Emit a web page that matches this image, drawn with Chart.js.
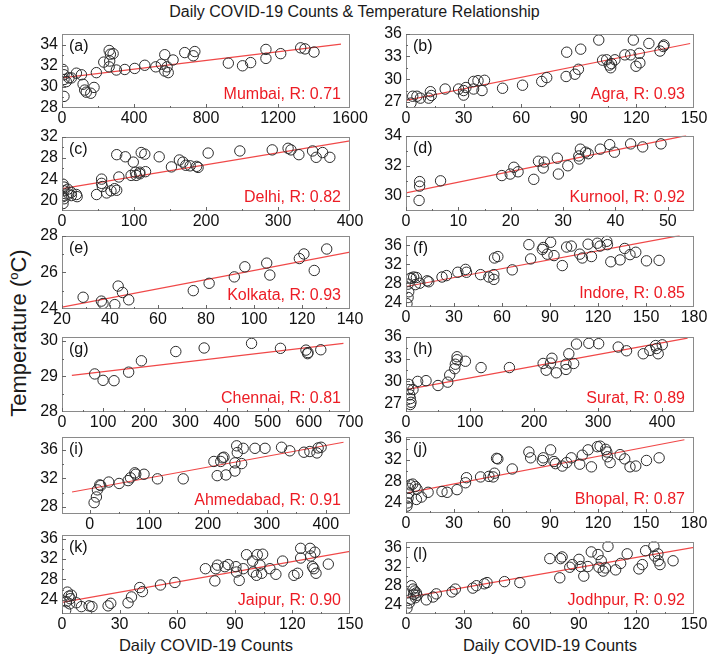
<!DOCTYPE html>
<html>
<head>
<meta charset="utf-8">
<script src="https://cdn.jsdelivr.net/npm/chart.js@4.4.1/dist/chart.umd.min.js"></script>
<style>
  body { margin:0; background:#fff; width:709px; height:655px; position:relative; overflow:hidden;
         font-family:"Liberation Sans", Arial, sans-serif; }
  canvas { position:absolute; }
  .txt { position:absolute; white-space:nowrap; color:#1a1a1a; }
</style>
</head>
<body>
<div class="txt" style="left:0;width:709px;top:3px;text-align:center;font-size:16px">Daily COVID-19 Counts &amp; Temperature Relationship</div>
<div class="txt" style="left:19px;top:333px;font-size:22px;transform:translate(-50%,-50%) rotate(-90deg)">Temperature (<sup style="font-size:13px">o</sup>C)</div>
<div class="txt" style="left:206px;top:636px;font-size:16.5px;transform:translateX(-50%)">Daily COVID-19 Counts</div>
<div class="txt" style="left:550px;top:636px;font-size:16.5px;transform:translateX(-50%)">Daily COVID-19 Counts</div>

<script>
/* ---- data: [daily counts, temperature] ---- */
var mumbaiPts = [[5,31.65],[11,31.15],[11,30.7],[11,29.1],[24,30.5],[39,30.85],[52,30.85],[80,31.3],[108,31.15],[117,30.25],
  [126,29.7],[135,29.5],[160,29.4],[178,29.95],[191,31.35],[232,32.35],[262,33.45],[269,33.1],[284,33.15],[262,31.9],
  [265,32.45],[302,31.6],[349,31.65],[404,31.75],[460,32.05],[521,31.9],[552,32.15],[571,33.05],[571,31.5],[584,31.9],
  [590,31.35],[617,32.55],[682,33.25],[729,32.95],[738,33.35],[924,32.25],[1003,32.0],[1048,32.3],[1133,33.55],[1133,32.7],
  [1215,33.15],[1326,33.7],[1350,33.6],[1400,33.3]];
var mumbaiFit = [[0,30.85],[1550,34.05]];

var agraPts = [[2.6,26.85],[3.5,27.75],[5.7,27.75],[7.5,27.5],[11.8,27.5],[12.7,28.35],[13.2,27.85],[20.4,28.7],[27.4,28.7],
  [30,28.5],[31.2,28.9],[30,27.9],[35.2,28.7],[35.2,29.7],[37.5,29.8],[39.6,28.5],[40.9,29.85],[50.3,28.8],[60.7,29.2],
  [70.7,29.7],[73.3,30.2],[83.7,33.55],[83.4,30.35],[88,30.65],[89.8,31.3],[91,33.95],[100.4,35.15],[102.4,32.5],[104.5,32.55],
  [105.9,31.85],[106.6,31.5],[107,32.05],[108.8,32.55],[114,33.2],[117,33.2],[118.4,35.15],[121.5,33.4],[121.8,32.15],
  [119.8,31.7],[126.5,34.7],[132.3,33.7],[134,34.3],[134.4,34.5]];
var agraFit = [[0,27.2],[148,34.7]];

var delhiPts = [[1.4,23.05],[2.8,22.5],[8,22.1],[13,21.5],[20,21.1],[48,21.1],[55,24.0],[55,23.2],[56,22.6],[68,21.8],
  [73,22.2],[76,21.9],[79,24.4],[76,28.6],[88,28.2],[99,27.2],[96,24.7],[102,25.3],[103,24.7],[108,25.3],[110,29.0],
  [115,28.7],[116,25.4],[108,25.0],[135,28.2],[152,26.3],[163,27.6],[168,27.2],[172,26.6],[178,26.5],[187,26.4],[189,26.2],
  [203,28.9],[247,29.3],[292,29.5],[314,29.8],[318,29.5],[329,28.6],[348,29.3],[353,28.1],[362,29.0],[372,28.1],
  [1.4,19.4],[2.8,20.3],[2.8,21.8],[9.3,21.2],[13,20.9],[21,20.7],[62,21.4],[1.4,20.7]];
var delhiFit = [[0,22.2],[400,31.2]];

var kurnoolPts = [[2.6,30.95],[2.6,30.65],[2.5,29.7],[6.6,31.0],[18.3,31.35],[19.9,31.45],[20.6,31.9],[21.4,31.6],[24.4,31.1],
  [25.3,32.3],[26.2,31.85],[26.4,32.25],[28.9,32.5],[29.1,31.45],[30.9,32.0],[33.0,32.65],[33.3,33.1],[33.1,32.45],
  [34.3,32.9],[34.8,32.8],[37.1,33.1],[38.9,33.4],[39.8,32.9],[42.9,33.45],[45.2,33.25],[48.7,33.45]];
var kurnoolFit = [[0,30.2],[53.5,34.0]];

var kolkataPts = [[28.8,24.64],[36.4,24.43],[37.1,24.3],[42,24.24],[43.4,25.25],[45.2,24.9],[47.8,24.5],[74.7,25.0],
  [81.3,25.4],[91.8,25.75],[96.2,26.3],[105.3,26.5],[106.6,25.85],[118.9,26.75],[120.8,27.0],[125.1,26.1],[130.3,27.27]];
var kolkataFit = [[20,24.1],[140,27.1]];

var indorePts = [[0.6,23.7],[1.3,25.0],[1.7,26.2],[1.3,27.8],[2.7,29.0],[3.3,29.1],[4.8,29.3],[5.8,27.7],[6.5,29.2],
  [8.6,28.0],[13.2,28.5],[14.2,28.3],[22.5,29.3],[25.3,29.6],[32.4,30.3],[37.2,30.9],[37.8,30.3],[46.6,29.8],[51.8,29.3],
  [54.9,29.8],[54.9,28.8],[55.3,33.3],[57.4,33.6],[66.4,30.8],[76.8,36.1],[77.9,33.1],[85.2,35.1],[85.8,35.5],[88.3,34.1],
  [90.4,36.6],[92.5,33.8],[97.7,31.7],[100.4,35.6],[103.3,35.8],[108.6,34.1],[110.2,33.3],[113.8,36.2],[115.9,33.6],
  [119.6,36.4],[121.3,35.8],[125.5,36.8],[125.9,36.1],[128,32.5],[133.8,32.9],[136.7,35.3],[140,34.0],[143.6,34.5],
  [150.3,32.7],[158.2,32.8]];
var indoreFit = [[0,27.3],[171,38]];

var chennaiPts = [[79.5,29.07],[99.8,28.89],[126.5,28.88],[162,29.12],[193,29.44],[276.6,29.70],[345.5,29.80],[460.7,29.93],
  [531,29.79],[593,29.74],[597,29.64],[598,29.67],[629,29.75]];
var chennaiFit = [[24,29.03],[684,29.93]];

var suratPts = [[4.2,29.6],[4.2,28.9],[5.7,28.2],[6.8,27.7],[6.8,26.9],[7.8,27.2],[10.9,28.9],[18.2,30.0],[31.3,30.1],
  [50,29.45],[65.2,29.9],[68.3,30.85],[76.1,31.7],[77.1,32.3],[79.8,32.9],[79.8,33.3],[92.8,32.7],[117.3,31.85],[161.6,31.85],
  [214.3,32.4],[219,31.5],[225.8,32.45],[228,33.1],[235,31.15],[250,32.3],[250,31.6],[254.4,33.7],[262,32.4],[266.4,35.0],
  [285.7,35.1],[301,35.05],[331.6,34.6],[344.6,34.1],[370.7,33.7],[381,34.15],[390,34.8],[391.5,34.4],[394,33.7],[400.4,34.9]];
var suratFit = [[0,28.9],[440,35.8]];

var ahmedabadPts = [[7.4,28.6],[11.3,29.4],[13,30.4],[17,31.1],[18.7,31.0],[32.2,31.5],[49.8,31.3],[65,31.7],[69,32.1],
  [76.4,32.8],[78,32.6],[92,32.6],[114.8,31.95],[158.4,31.95],[210.4,34.4],[216,32.4],[222,34.4],[225,34.9],[227.4,35.0],
  [230.8,32.5],[246,33.05],[246,34.2],[250,35.65],[249,36.6],[257.4,34.1],[260,36.25],[280,36.25],[297,36.25],[325,36.4],
  [339,35.9],[363,35.7],[373,35.8],[385,35.6],[387,36.3],[392,36.4]];
var ahmedabadFit = [[-30,30.1],[430,37.1]];

var bhopalPts = [[0.6,23.3],[1,23.9],[1.3,24.8],[1.7,25.75],[1.7,26.65],[2.7,27.3],[4.2,27.45],[5.8,27.0],[6.9,26.5],
  [6.5,24.55],[9.6,25.0],[13.8,25.9],[22.5,26.05],[25.7,25.9],[31.9,26.4],[37.2,27.7],[37.8,28.65],[46.6,28.8],[51.8,28.9],
  [54.5,28.8],[55.3,29.5],[56.6,32.3],[57.4,32.2],[66.4,30.3],[76.8,33.5],[77.9,32.4],[85.2,31.9],[85.8,32.4],[90.4,33.9],
  [92.5,31.7],[93.5,31.3],[97.7,30.85],[100.4,31.5],[103.3,32.4],[108.6,31.2],[110.2,32.9],[113.8,33.9],[115.9,30.7],
  [119.6,34.5],[121.3,34.6],[124.8,34.0],[125.5,33.5],[125.9,32.6],[127.6,31.5],[133.8,33.0],[136.7,32.2],[140,30.7],
  [143.6,30.85],[150.3,31.9],[158.2,32.4]];
var bhopalFit = [[0,25.75],[174,35.8]];

var jaipurPts = [[1.9,21.9],[2.3,23.6],[2.8,25.5],[3.6,24.7],[4.0,23.2],[4.3,24.2],[4.9,24.9],[7.5,23.4],[10.1,22.65],
  [14.1,22.8],[15.6,22.65],[24,22.8],[25.4,23.3],[34.4,23.4],[36.2,24.55],[40.5,26.4],[41.9,25.6],[51.3,26.9],[58.8,27.4],
  [74.7,30.1],[79.6,27.7],[80.1,30.1],[81,30.8],[84.8,30.5],[86.6,30.9],[90.6,30.5],[90.9,29.45],[92.3,27.8],[94.4,30.1],
  [96.1,32.85],[99.3,31.6],[99.6,29.45],[101.3,28.8],[101.7,32.85],[103.1,30.8],[104,29.2],[104.5,32.95],[108.3,30.1],
  [111.4,29.0],[114.9,31.6],[120.8,28.8],[122.7,29.2],[124.3,34.1],[124.3,32.2],[129.2,34.1],[129.5,32.6],[130.5,30.5],
  [131.2,30.1],[131.7,33.35],[132.3,29.2],[138.7,31.0]];
var jaipurFit = [[0,23.5],[150,33.5]];

var jodhpurPts = [[0.5,23.3],[1.7,24.4],[2.6,25.2],[2.8,28.0],[3.7,27.3],[4.0,26.2],[4.5,26.9],[4.9,25.5],[5.4,26.5],
  [5.7,26.0],[10.6,25.05],[14.1,25.65],[15.8,26.3],[24,26.7],[25.7,27.3],[34.8,27.5],[36.7,28.0],[40.8,28.4],[42.2,28.65],
  [51.3,28.85],[59.3,28.65],[74.9,33.65],[80.1,29.65],[80.5,33.65],[81.3,34.0],[85.3,31.85],[86.6,32.4],[90.1,33.5],
  [91,32.0],[92.6,30.0],[94.7,32.0],[96.5,35.05],[100,34.5],[100.5,31.85],[101.7,33.2],[102.7,31.05],[103.9,31.7],
  [105.2,36.2],[109.2,31.3],[111.8,32.65],[115.2,34.65],[121.3,31.5],[123.1,32.4],[124.8,35.3],[129.1,36.2],[129.5,34.2],
  [131.2,34.65],[131.4,33.2],[132.3,32.4],[139.1,33.2]];
var jodhpurFit = [[0,25.5],[150,36.0]];

/* ---- panel table: label, city, R, data, axis ranges and tick labels ---- */
var panels = [
  { id:"a", city:"Mumbai",    r:"0.71", pts:mumbaiPts,    fit:mumbaiFit,    xr:[0,1600], xt:[0,400,800,1200,1600], yr:[28,35.05], yt:[28,30,32,34] },
  { id:"b", city:"Agra",      r:"0.93", pts:agraPts,      fit:agraFit,      xr:[0,150],  xt:[0,30,60,90,120,150],  yr:[26.2,36],  yt:[27,30,33,36] },
  { id:"c", city:"Delhi",     r:"0.82", pts:delhiPts,     fit:delhiFit,     xr:[0,400],  xt:[0,100,200,300,400],   yr:[18,32],    yt:[20,24,28,32] },
  { id:"d", city:"Kurnool",   r:"0.92", pts:kurnoolPts,   fit:kurnoolFit,   xr:[0,55],   xt:[0,10,20,30,40,50],    yr:[29,34],    yt:[30,32,34] },
  { id:"e", city:"Kolkata",   r:"0.93", pts:kolkataPts,   fit:kolkataFit,   xr:[20,140], xt:[20,40,60,80,100,120,140], yr:[24,28], yt:[24,26,28] },
  { id:"f", city:"Indore",    r:"0.85", pts:indorePts,    fit:indoreFit,    xr:[0,180],  xt:[0,30,60,90,120,150,180], yr:[23,38], yt:[24,28,32,36] },
  { id:"g", city:"Chennai",   r:"0.81", pts:chennaiPts,   fit:chennaiFit,   xr:[0,700],  xt:[0,100,200,300,400,500,600,700], yr:[28,30.12], yt:[28,29,30] },
  { id:"h", city:"Surat",     r:"0.89", pts:suratPts,     fit:suratFit,     xr:[0,450],  xt:[0,100,200,300,400],   yr:[25.9,36],  yt:[27,30,33,36] },
  { id:"i", city:"Ahmedabad", r:"0.91", pts:ahmedabadPts, fit:ahmedabadFit, xr:[-47,441], xt:[0,100,200,300,400],  yr:[27,37.9],  yt:[28,32,36] },
  { id:"j", city:"Bhopal",    r:"0.87", pts:bhopalPts,    fit:bhopalFit,    xr:[0,180],  xt:[0,30,60,90,120,150,180], yr:[22,36.4], yt:[24,28,32,36] },
  { id:"k", city:"Jaipur",    r:"0.90", pts:jaipurPts,    fit:jaipurFit,    xr:[0,150],  xt:[0,30,60,90,120,150],  yr:[21.2,36.8], yt:[24,28,32,36] },
  { id:"l", city:"Jodhpur",   r:"0.92", pts:jodhpurPts,   fit:jodhpurFit,   xr:[0,150],  xt:[0,30,60,90,120,150],  yr:[22.1,37.2], yt:[24,28,32,36] }
];

/* plot boxes on the page: left, top, width, height */
var boxes = {
  a:[62,30,288,78],  b:[406,30,288,78],
  c:[62,133,288,78], d:[406,132,288,79],
  e:[62,232,288,77], f:[406,232,288,75],
  g:[62,333,288,79], h:[406,333,288,79],
  i:[62,433,288,81], j:[406,433,288,80],
  k:[62,531,288,83], l:[406,538,288,76]
};

var FONT = '"Liberation Sans", Arial, sans-serif';
var PADL = 48, PADT = 10, PADR = 22, PADB = 24;

/* frame, inward ticks, panel letter and red caption */
var framePlugin = {
  id: "frame",
  afterDraw: function (chart, args, o) {
    var ctx = chart.ctx, a = chart.chartArea;
    var sx = chart.scales.x, sy = chart.scales.y;
    ctx.save();
    ctx.strokeStyle = "#8a8a8a";
    ctx.lineWidth = 1;
    ctx.strokeRect(Math.round(a.left) + 0.5, Math.round(a.top) + 0.5,
                   Math.round(a.right - a.left) - 1, Math.round(a.bottom - a.top) - 1);

    ctx.strokeStyle = "#666";
    function marks(vals) {
      var out = [];
      for (var i = 0; i < vals.length; i++) {
        out.push([vals[i], 4]);
        if (i < vals.length - 1) out.push([(vals[i] + vals[i + 1]) / 2, 2]);
      }
      return out;
    }
    marks(o.xt).forEach(function (m) {
      var px = Math.round(sx.getPixelForValue(m[0])) + 0.5;
      if (px < a.left || px > a.right) return;
      ctx.beginPath(); ctx.moveTo(px, a.bottom); ctx.lineTo(px, a.bottom - m[1]); ctx.stroke();
    });
    marks(o.yt).forEach(function (m) {
      var py = Math.round(sy.getPixelForValue(m[0])) + 0.5;
      if (py < a.top || py > a.bottom) return;
      ctx.beginPath(); ctx.moveTo(a.left, py); ctx.lineTo(a.left + m[1], py); ctx.stroke();
    });

    ctx.fillStyle = "#111";
    ctx.font = "16px " + FONT;
    ctx.textAlign = "left";
    ctx.textBaseline = "top";
    ctx.fillText("(" + o.id + ")", a.left + 7, a.top + 5);

    ctx.fillStyle = "#ec1c24";
    ctx.textAlign = "right";
    ctx.textBaseline = "alphabetic";
    ctx.fillText(o.caption, a.right - 9, a.bottom - 9);
    ctx.restore();
  }
};

function plain(v) { return String(v); }

panels.forEach(function (p) {
  var b = boxes[p.id];
  var cv = document.createElement("canvas");
  var w = b[2] + PADL + PADR, h = b[3] + PADT + PADB;
  cv.width = w; cv.height = h;
  cv.style.left = (b[0] - PADL) + "px";
  cv.style.top = (b[1] - PADT) + "px";
  cv.style.width = w + "px";
  cv.style.height = h + "px";
  document.body.appendChild(cv);

  new Chart(cv, {
    type: "scatter",
    data: {
      datasets: [
        {
          data: p.pts.map(function (d) { return { x: d[0], y: d[1] }; }),
          pointRadius: 5.2, pointHoverRadius: 5.2,
          pointBackgroundColor: "rgba(0,0,0,0)",
          pointBorderColor: "#2b2b2b", pointBorderWidth: 1
        },
        {
          type: "line",
          data: p.fit.map(function (d) { return { x: d[0], y: d[1] }; }),
          borderColor: "#f04848", borderWidth: 1.2,
          pointRadius: 0, fill: false
        }
      ]
    },
    options: {
      responsive: false,
      animation: false,
      events: [],
      layout: { padding: { left: 0, top: PADT, right: PADR, bottom: 0 } },
      plugins: {
        legend: { display: false },
        tooltip: { enabled: false },
        frame: { id: p.id, caption: p.city + ", R: " + p.r, xt: p.xt, yt: p.yt }
      },
      scales: {
        x: {
          type: "linear", min: p.xr[0], max: p.xr[1],
          grid: { display: false, drawTicks: false },
          border: { display: false },
          afterBuildTicks: function (s) { s.ticks = p.xt.map(function (v) { return { value: v }; }); },
          afterFit: function (s) { s.height = PADB; },
          ticks: { color: "#111", font: { family: FONT, size: 16 }, padding: 1, maxRotation: 0, autoSkip: false, callback: plain }
        },
        y: {
          type: "linear", min: p.yr[0], max: p.yr[1],
          grid: { display: false, drawTicks: false },
          border: { display: false },
          afterBuildTicks: function (s) { s.ticks = p.yt.map(function (v) { return { value: v }; }); },
          afterFit: function (s) { s.width = PADL; },
          ticks: { color: "#111", font: { family: FONT, size: 16 }, padding: 4, autoSkip: false, callback: plain }
        }
      }
    },
    plugins: [framePlugin]
  });
});
</script>
</body>
</html>
